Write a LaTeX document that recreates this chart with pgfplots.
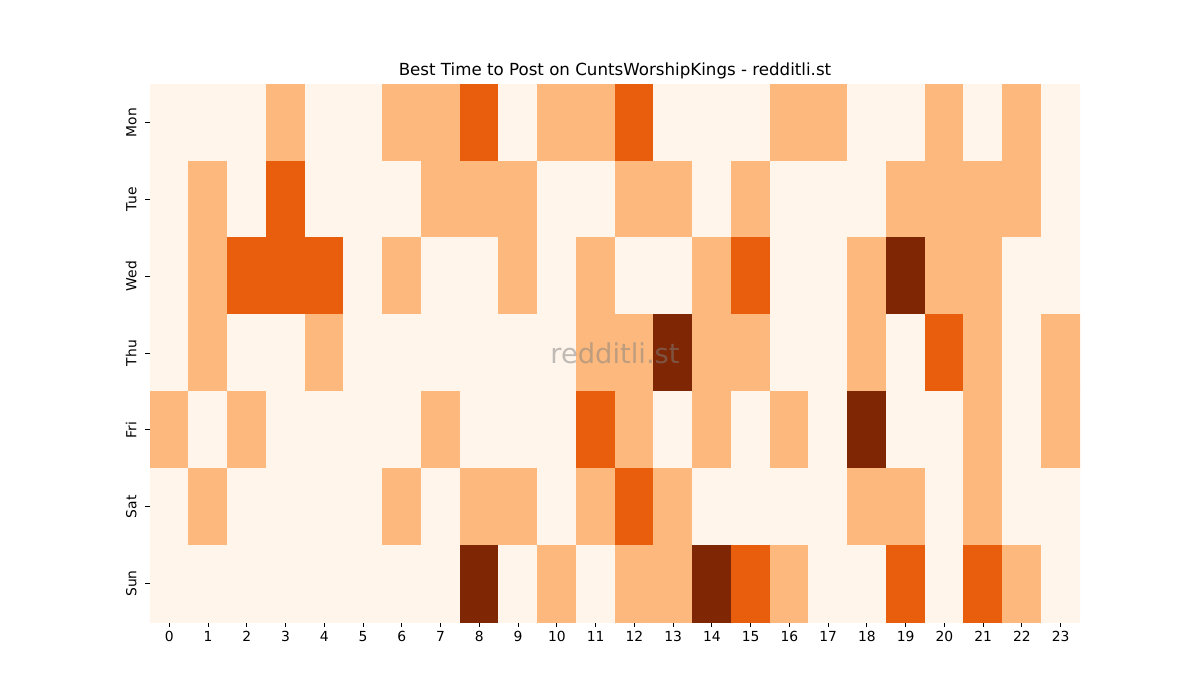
\documentclass[border=0pt]{standalone}
\usepackage{pgfplots}
\pgfplotsset{compat=1.18}
\usepackage{fontspec}
\setmainfont{DejaVu Sans}
\begin{document}
\begin{tikzpicture}[x=1pt,y=1pt]
\useasboundingbox (-112.5,-58.5) rectangle (787.5,466.5);
\begin{axis}[
  at={(0,0)}, anchor=south west,
  scale only axis, width=697.5pt, height=403.5pt,
  xmin=-0.5, xmax=23.5, ymin=-0.5, ymax=6.5,
  y dir=reverse,
  enlargelimits=false,
  axis line style={draw=none},
  tick pos=left, tick align=outside,
  major tick length=3.6pt,
  tick style={black, line width=0.6pt},
  xtick={0,...,23},
  ytick={0,...,6},
  yticklabels={Mon,Tue,Wed,Thu,Fri,Sat,Sun},
  yticklabel shift=3pt,
  yticklabel style={rotate=90, anchor=south, font=\fontsize{10.4}{12}\selectfont},
  xticklabel style={font=\fontsize{10.4}{12}\selectfont},
  /pgf/number format/assume math mode=true,
  title={Best Time to Post on CuntsWorshipKings - redditli.st},
  title style={font=\fontsize{12.5}{15}\selectfont, yshift=-5.5pt},
  colormap={oranges}{rgb255(0)=(255,245,235); rgb255(1)=(253,185,125); rgb255(2)=(233,94,13); rgb255(3)=(127,39,4)},
  point meta min=0, point meta max=3,
]
\addplot[matrix plot*, mesh/cols=24, point meta=explicit] table[row sep=\\, meta=c]{
x y c\\
0 0 0\\ 1 0 0\\ 2 0 0\\ 3 0 1\\ 4 0 0\\ 5 0 0\\ 6 0 1\\ 7 0 1\\ 8 0 2\\ 9 0 0\\ 10 0 1\\ 11 0 1\\ 12 0 2\\ 13 0 0\\ 14 0 0\\ 15 0 0\\ 16 0 1\\ 17 0 1\\ 18 0 0\\ 19 0 0\\ 20 0 1\\ 21 0 0\\ 22 0 1\\ 23 0 0\\
0 1 0\\ 1 1 1\\ 2 1 0\\ 3 1 2\\ 4 1 0\\ 5 1 0\\ 6 1 0\\ 7 1 1\\ 8 1 1\\ 9 1 1\\ 10 1 0\\ 11 1 0\\ 12 1 1\\ 13 1 1\\ 14 1 0\\ 15 1 1\\ 16 1 0\\ 17 1 0\\ 18 1 0\\ 19 1 1\\ 20 1 1\\ 21 1 1\\ 22 1 1\\ 23 1 0\\
0 2 0\\ 1 2 1\\ 2 2 2\\ 3 2 2\\ 4 2 2\\ 5 2 0\\ 6 2 1\\ 7 2 0\\ 8 2 0\\ 9 2 1\\ 10 2 0\\ 11 2 1\\ 12 2 0\\ 13 2 0\\ 14 2 1\\ 15 2 2\\ 16 2 0\\ 17 2 0\\ 18 2 1\\ 19 2 3\\ 20 2 1\\ 21 2 1\\ 22 2 0\\ 23 2 0\\
0 3 0\\ 1 3 1\\ 2 3 0\\ 3 3 0\\ 4 3 1\\ 5 3 0\\ 6 3 0\\ 7 3 0\\ 8 3 0\\ 9 3 0\\ 10 3 0\\ 11 3 1\\ 12 3 1\\ 13 3 3\\ 14 3 1\\ 15 3 1\\ 16 3 0\\ 17 3 0\\ 18 3 1\\ 19 3 0\\ 20 3 2\\ 21 3 1\\ 22 3 0\\ 23 3 1\\
0 4 1\\ 1 4 0\\ 2 4 1\\ 3 4 0\\ 4 4 0\\ 5 4 0\\ 6 4 0\\ 7 4 1\\ 8 4 0\\ 9 4 0\\ 10 4 0\\ 11 4 2\\ 12 4 1\\ 13 4 0\\ 14 4 1\\ 15 4 0\\ 16 4 1\\ 17 4 0\\ 18 4 3\\ 19 4 0\\ 20 4 0\\ 21 4 1\\ 22 4 0\\ 23 4 1\\
0 5 0\\ 1 5 1\\ 2 5 0\\ 3 5 0\\ 4 5 0\\ 5 5 0\\ 6 5 1\\ 7 5 0\\ 8 5 1\\ 9 5 1\\ 10 5 0\\ 11 5 1\\ 12 5 2\\ 13 5 1\\ 14 5 0\\ 15 5 0\\ 16 5 0\\ 17 5 0\\ 18 5 1\\ 19 5 1\\ 20 5 0\\ 21 5 1\\ 22 5 0\\ 23 5 0\\
0 6 0\\ 1 6 0\\ 2 6 0\\ 3 6 0\\ 4 6 0\\ 5 6 0\\ 6 6 0\\ 7 6 0\\ 8 6 3\\ 9 6 0\\ 10 6 1\\ 11 6 0\\ 12 6 1\\ 13 6 1\\ 14 6 3\\ 15 6 2\\ 16 6 1\\ 17 6 0\\ 18 6 0\\ 19 6 2\\ 20 6 0\\ 21 6 2\\ 22 6 1\\ 23 6 0\\
};
\node[text=gray, opacity=0.5, font=\fontsize{20.5}{24}\selectfont] at (rel axis cs:0.5,0.5) {redditli.st};
\end{axis}
\end{tikzpicture}
\end{document}
